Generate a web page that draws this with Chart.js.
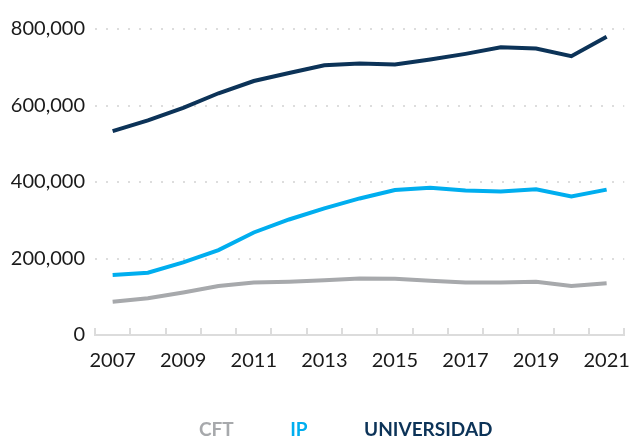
<!DOCTYPE html>
<html>
<head>
<meta charset="utf-8">
<script src="https://cdn.jsdelivr.net/npm/chart.js@4/dist/chart.umd.min.js"></script>
<style>
  html, body { margin: 0; padding: 0; background: #fff; }
  #wrap { width: 636px; height: 437px; }
</style>
</head>
<body>
<div id="wrap"><canvas id="chart"></canvas></div>
<script>
const years = ["2007","2008","2009","2010","2011","2012","2013","2014","2015","2016","2017","2018","2019","2020","2021"];
const cft = [87000, 96000, 111000, 128000, 137000, 139000, 143000, 148000, 147000, 142000, 137000, 137000, 139000, 128000, 135000];
const ip = [157000, 163000, 190000, 222000, 268000, 302000, 331000, 357000, 379000, 385000, 378000, 375000, 381000, 362000, 380000];
const universidad = [533000, 561000, 594000, 632000, 664000, 685000, 705000, 710000, 707000, 720000, 735000, 752000, 749000, 729000, 780000];
const yTicks = [0, 200000, 400000, 600000, 800000];

const FONT = "Lato, 'Open Sans', sans-serif";

// small tick marks pointing up from the x axis, at category boundaries
const upTicks = {
  id: "upTicks",
  afterDraw(chart) {
    const xs = chart.scales.x;
    const ctx = chart.ctx;
    const n = years.length;
    const step = (xs.right - xs.left) / n;
    ctx.save();
    ctx.strokeStyle = "#dcdcdc";
    ctx.lineWidth = 2;
    for (let i = 0; i <= n; i++) {
      const x = Math.round(xs.left + i * step);
      ctx.beginPath();
      ctx.moveTo(x, xs.top);
      ctx.lineTo(x, xs.top - 7);
      ctx.stroke();
    }
    ctx.restore();
  }
};

const ctx = document.getElementById("chart");
new Chart(ctx, {
  type: "line",
  data: {
    labels: years,
    datasets: [
      { label: "CFT", data: cft, borderColor: "#a7a9ac" },
      { label: "IP", data: ip, borderColor: "#00aeef" },
      { label: "UNIVERSIDAD", data: universidad, borderColor: "#0c3358" },
    ],
  },
  options: {
    responsive: true,
    maintainAspectRatio: false,
    animation: false,
    elements: {
      line: { borderWidth: 4, tension: 0, borderCapStyle: "butt", fill: false },
      point: { radius: 0 },
    },
    layout: { padding: { top: 29, left: 9, right: 5, bottom: -12 } },
    scales: {
      x: {
        offset: true,
        grid: { display: false },
        border: { display: true, color: "#dcdcdc", width: 2 },
        ticks: {
          autoSkip: false,
          maxRotation: 0,
          padding: 6,
          color: "#1a1a1a",
          font: { family: FONT, size: 20 },
          callback: (v, i) => (i % 2 === 0 ? years[i] : ""),
        },
        afterFit: (scale) => { scale.height = 80; },
      },
      y: {
        min: 0,
        max: 800000,
        afterBuildTicks: (scale) => { scale.ticks = yTicks.map((v) => ({ value: v })); },
        grid: { color: "#dddddd", lineWidth: 2, drawTicks: false },
        border: { display: false, dash: [2, 9] },
        ticks: {
          padding: 10,
          color: "#1a1a1a",
          font: { family: FONT, size: 20 },
          callback: (v) => v.toLocaleString("en-US"),
        },
        afterFit: (scale) => { scale.width = 86; },
      },
    },
    plugins: {
      tooltip: { enabled: false },
      legend: {
        position: "bottom",
        labels: {
          boxWidth: 42,
          boxHeight: 0,
          padding: 5,
          font: { family: FONT, size: 19, weight: "bold" },
          generateLabels: (chart) =>
            chart.data.datasets.map((d, i) => ({
              text: d.label,
              fontColor: d.borderColor,
              fillStyle: "rgba(0,0,0,0)",
              strokeStyle: "rgba(0,0,0,0)",
              lineWidth: 0,
              hidden: false,
              datasetIndex: i,
            })),
        },
      },
    },
  },
  plugins: [upTicks],
});
</script>
</body>
</html>
